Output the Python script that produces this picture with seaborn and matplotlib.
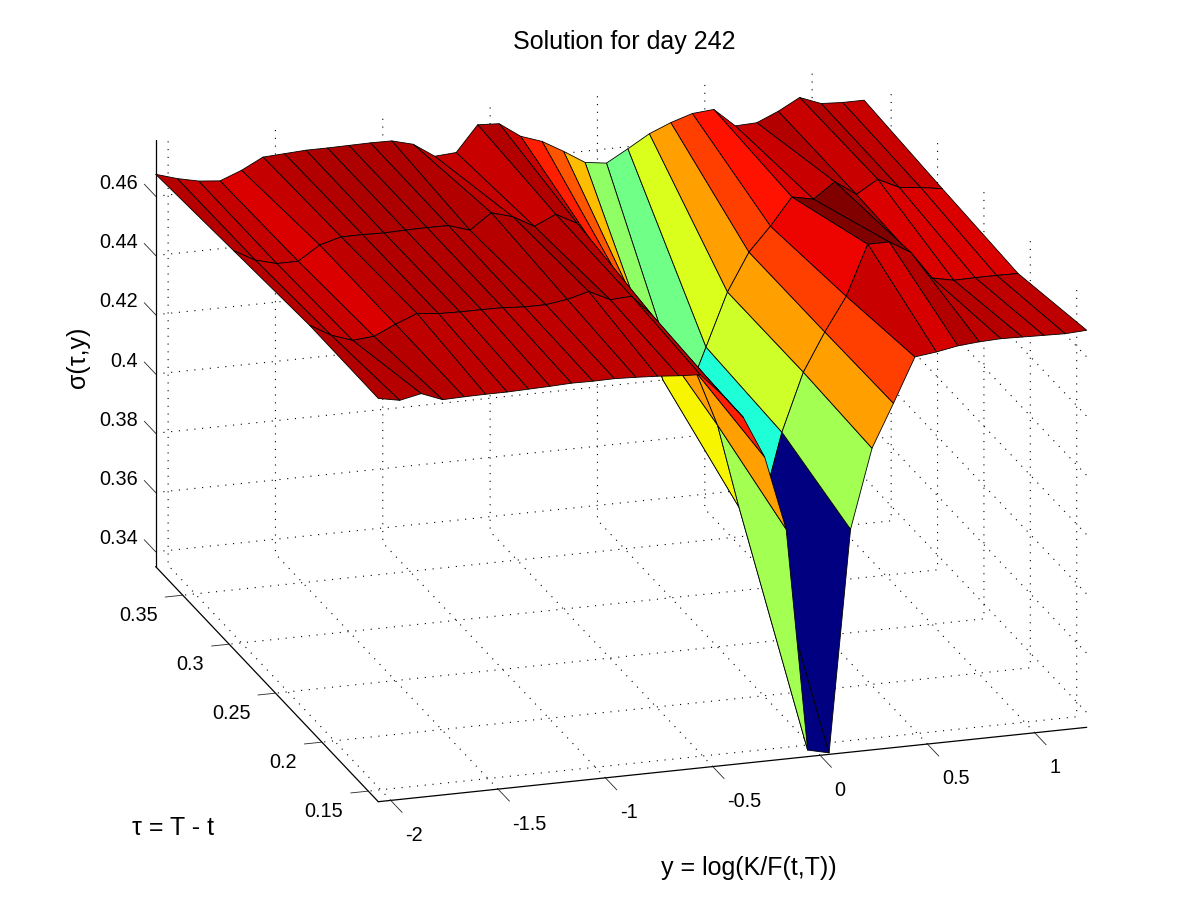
import numpy as np
import matplotlib
matplotlib.use("Agg")
import matplotlib.pyplot as plt
import seaborn as sns

sns.set_theme(style="white")
plt.rcParams['font.family'] = ['Liberation Sans', 'DejaVu Sans']

# log-moneyness grid
y_vals = [-2.058, -1.958, -1.858, -1.758, -1.658, -1.558, -1.458, -1.358, -1.258, -1.158,
          -1.058, -0.958, -0.858, -0.758, -0.658, -0.558, -0.458, -0.358, -0.258, -0.158,
          -0.058, 0.042, 0.142, 0.242, 0.342, 0.442, 0.542, 0.642, 0.742, 0.842,
          0.942, 1.042, 1.142, 1.242]
tau_vals = [0.1392, 0.2132, 0.295, 0.3792]

# sigma per maturity
sigma_t0 = [.4711, .4697, .4712, .4684, .4686, .4687, .4687, .4689, .4691, .4694, .4693, .4694,
            .4691, .4687, .4681, .4677, .4603, .4518, .4376, .4125, .3372, .3355, .4102, .4368,
            .4512, .4661, .4670, .4683, .4689, .4692, .4690, .4688, .4686, .4690]
sigma_t1 = [.4713, .4672, .4647, .4653, .4686, .4715, .4707, .4705, .4705, .4704, .4699, .4699,
            .4709, .4728, .4693, .4697, .4622, .4527, .4418, .4232, .3947, .3919, .4185, .4380,
            .4508, .4621, .4789, .4789, .4746, .4652, .4637, .4638, .4638, .4637]
sigma_t2 = [.4694, .4655, .4636, .4636, .4683, .4703, .4703, .4701, .4703, .4704, .4703, .4680,
            .4731, .4710, .4670, .4703, .4665, .4560, .4458, .4326, .4105, .4024, .4202, .4380,
            .4507, .4587, .4678, .4663, .4714, .4664, .4707, .4672, .4664, .4653]
sigma_t3 = [.4674, .4652, .4636, .4629, .4657, .4694, .4698, .4702, .4702, .4703, .4704, .4703,
            .4684, .4636, .4641, .4727, .4723, .4673, .4648, .4607, .4562, .4552, .4593, .4636,
            .4666, .4689, .4695, .4632, .4635, .4666, .4705, .4677, .4673, .4673]

# colour value of each facet, front strip to back strip
colour_front = [.955, .95, .96, .95, .945, .945, .945, .945, .945, .945, .945, .945,
                .945, .945, .945, .945, .95, .876, .74, .55, .0, .0, .55, .74,
                .84, .935, .925, .955, .945, .95, .945, .945, .945]
colour_mid = [.95, .94, .935, .92, .945, .955, .955, .955, .955, .955, .95, .95,
              .955, .965, .95, .95, .945, .90, .74, .65, .45, .39, .60, .74,
              .84, .905, 1.0, 1.0, .97, .92, .92, .92, .92]
colour_back = [.95, .94, .94, .92, .94, .95, .955, .96, .96, .96, .96, .955,
               .945, .94, .935, .955, .935, .876, .82, .7075, .525, .486, .615, .74,
               .84, .89, .92, .935, .955, .935, .955, .945, .935]

y_ticks = [-2, -1.5, -1, -0.5, 0, 0.5, 1]
y_labels = ['-2', '-1.5', '-1', '-0.5', '0', '0.5', '1']
tau_ticks = [0.15, 0.2, 0.25, 0.3, 0.35]
tau_labels = ['0.15', '0.2', '0.25', '0.3', '0.35']
sigma_ticks = [0.34, 0.36, 0.38, 0.4, 0.42, 0.44, 0.46]
sigma_labels = ['0.34', '0.36', '0.38', '0.4', '0.42', '0.44', '0.46']
sigma_lo, sigma_hi = 0.335, 0.479

X, T = np.meshgrid(y_vals, tau_vals)
Z = np.array([sigma_t0, sigma_t1, sigma_t2, sigma_t3])
jet = matplotlib.colormaps['jet']
face = jet(np.array([colour_front, colour_mid, colour_back]))

fig = plt.figure(figsize=(12, 9), dpi=100)
ax = fig.add_axes([51.8 / 1200, -103 / 900, 1108.8 / 1200, 1108.8 / 900], projection='3d')
ax.set_proj_type('ortho')
ax.view_init(elev=19.45, azim=-107.5)
ax.set_box_aspect((742.8, 740.3, 452.5), zoom=1.0)

ax.plot_surface(X, T, Z, facecolors=face, rstride=1, cstride=1, shade=False,
                edgecolor='black', linewidth=0.6)

ax.set_xlim(y_vals[0], y_vals[-1])
ax.set_ylim(tau_vals[0], tau_vals[-1])
ax.set_zlim(sigma_lo, sigma_hi)
ax.set_xticks(y_ticks)
ax.set_yticks(tau_ticks)
ax.set_zticks(sigma_ticks)

for axis in (ax.xaxis, ax.yaxis, ax.zaxis):
    axis.set_pane_color((1, 1, 1, 0))
    axis.pane.set_edgecolor('none')
    axis.line.set_color('black')
    axis.line.set_linewidth(0.9)
    axis._axinfo['grid'].update(color='black', linestyle=(0, (1, 6)), linewidth=0.8)
    axis._axinfo['tick']['linewidth'] = {True: 0.6, False: 0.5}
    axis._axinfo['tick']['inward_factor'] = 0
    # the labels below replace the axis ones
    axis.label.set_visible(False)
    for tick in axis.get_major_ticks():
        tick.label1.set_visible(False)
        tick.label2.set_visible(False)

# ticks point outwards, z ticks run along tau like the original
ax.xaxis._axinfo['tick']['outward_factor'] = -0.64
ax.yaxis._axinfo['tick']['outward_factor'] = -0.31
ax.zaxis._axinfo['tick']['outward_factor'] = 0.64
ax.zaxis._get_tickdir = lambda position: 1

# tick labels as 3d text so they can sit where the original has them
for val, lab in zip(y_ticks, y_labels):
    ax.text(val + 0.0675, tau_vals[0], sigma_lo - 0.0123, lab, ha='left', va='center',
            fontsize=14.3, color='black')
for val, lab in zip(tau_ticks, tau_labels):
    ax.text(y_vals[0] - 0.1164, val, sigma_lo - 0.0061, lab, ha='right', va='center',
            fontsize=14.3, color='black')
for val, lab in zip(sigma_ticks, sigma_labels):
    ax.text(y_vals[0] - 0.081, tau_vals[-1], val + 0.005, lab, ha='right', va='center',
            fontsize=14.3, color='black')

fig.text(0.5204, 0.9533, 'Solution for day 242', ha='center', va='center', fontsize=18, color='black')
fig.text(0.6237, 0.0356, 'y = log(K/F(t,T))', ha='center', va='center', fontsize=18, color='black')
fig.text(0.144, 0.080, 'τ = T - t', ha='center', va='center', fontsize=18, color='black')
fig.text(0.065, 0.603, 'σ(τ,y)', ha='center', va='center', rotation=90, fontsize=18, color='black')

fig.savefig('out.png', dpi=100)
